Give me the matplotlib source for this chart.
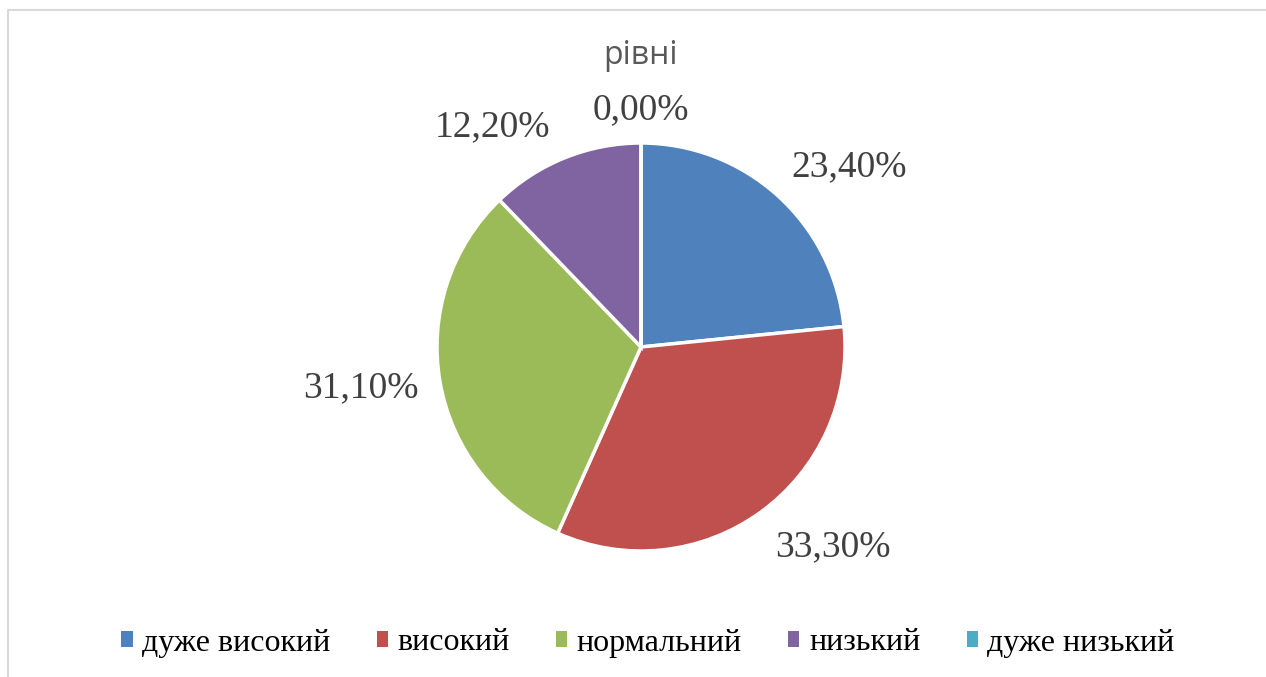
import numpy as np
import matplotlib.pyplot as plt
from matplotlib.lines import Line2D
from matplotlib.patches import Patch

# data
categories = ['дуже високий', 'високий', 'нормальний', 'низький', 'дуже низький']
shares = [23.4, 33.3, 31.1, 12.2, 0.0]
colors = ['#4F81BD', '#C0504D', '#9BBB59', '#8064A2', '#4BACC6']
title = 'рівні'

# label placement: (angle shift in degrees, distance in radii)
label_layout = [(-7, 1.35), (8, 1.36), (-1.5, 1.39), (12, 1.30), (0, 1.16)]

W, H = 1266, 677
fig = plt.figure(figsize=(W / 100, H / 100), dpi=100)

# chart border (only top and left visible in the crop)
fig.add_artist(Line2D([8 / W, 8 / W], [0, 1 - 10 / H], color='#D9D9D9', lw=1.5))
fig.add_artist(Line2D([8 / W, 1], [1 - 10 / H, 1 - 10 / H], color='#D9D9D9', lw=1.5))

R = 204
cx, cy = 641, H - 347
side = 3 * R
ax = fig.add_axes([(cx - side / 2) / W, (cy - side / 2) / H, side / W, side / H])

wedges, _ = ax.pie(shares, colors=colors, startangle=90, counterclock=False,
                   radius=1, wedgeprops=dict(edgecolor='white', linewidth=2.5))
ax.set_xlim(-1.5, 1.5)
ax.set_ylim(-1.5, 1.5)
ax.axis('off')

serif = ['Liberation Serif', 'DejaVu Serif']
for w, v, (shift, dist) in zip(wedges, shares, label_layout):
    mid = np.deg2rad((w.theta1 + w.theta2) / 2 + shift)
    txt = f'{v:.2f}%'.replace('.', ',')
    ax.text(dist * np.cos(mid), dist * np.sin(mid), txt, ha='center', va='center',
            fontsize=27, family=serif, color='#404040')

fig.text(cx / W, 1 - 55 / H, title, ha='center', va='center', fontsize=23,
         family=['Open Sans', 'DejaVu Sans'], color='#595959')

handles = [Patch(facecolor=c, edgecolor='none') for c in colors]
fig.legend(handles, categories, loc='center', bbox_to_anchor=(648 / W, 1 - 643 / H),
           ncol=5, frameon=False, prop={'family': serif, 'size': 23},
           handlelength=0.35, handleheight=0.35, handletextpad=0.3, columnspacing=1.45)

fig.savefig('out.png', dpi=100)
